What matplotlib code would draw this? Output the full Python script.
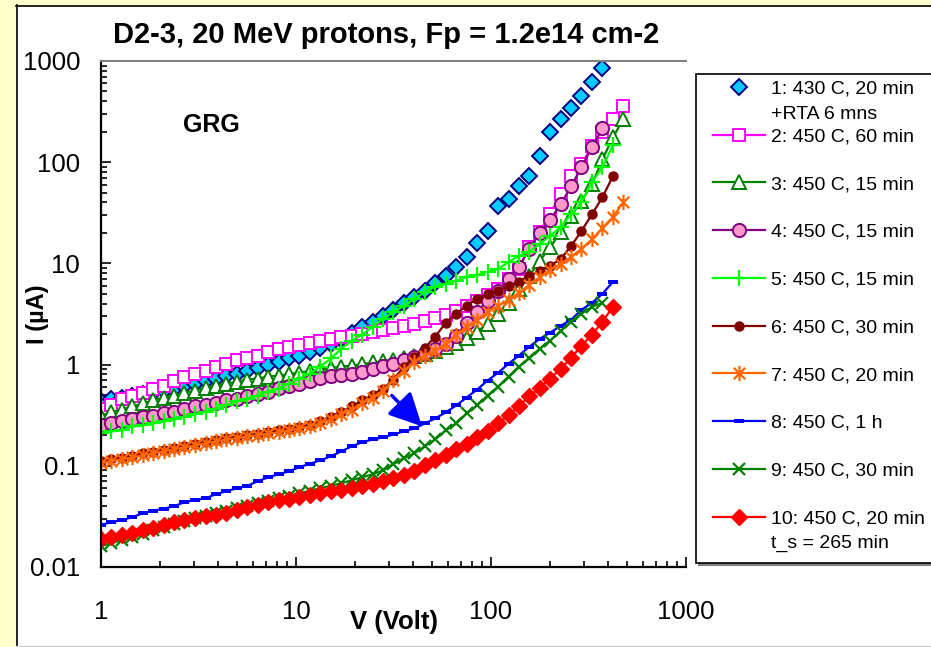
import matplotlib
matplotlib.use("Agg")
import matplotlib.pyplot as plt
from matplotlib.lines import Line2D
from matplotlib.patches import Rectangle
from matplotlib.path import Path
from matplotlib.ticker import LogLocator, NullFormatter, FuncFormatter

plt.rcParams['font.family'] = ['Liberation Sans', 'DejaVu Sans']

# bias voltage (V), shared by all curves
volts = [1.00, 1.13, 1.28, 1.45, 1.64, 1.85, 2.10, 2.37, 2.68, 3.03,
         3.44, 3.89, 4.40, 4.97, 5.63, 6.37, 7.20, 8.15, 9.22, 10.4,
         11.8, 13.3, 15.1, 17.1, 19.3, 21.9, 24.7, 28.0, 31.6, 35.8,
         40.5, 45.8, 51.8, 58.6, 66.3, 75.0, 84.9, 96.0, 109, 123,
         139, 157, 178, 201, 228, 258, 291, 330, 373, 422, 477, 540]

# current (uA) for each anneal step
i_1 = [0.432, 0.452, 0.473, 0.495, 0.512, 0.530, 0.548, 0.580, 0.614, 0.650,
       0.688, 0.728, 0.770, 0.815, 0.863, 0.924, 1.00, 1.07, 1.15, 1.23,
       1.33, 1.45, 1.61, 1.80, 2.07, 2.37, 2.65, 3.04, 3.48, 4.08,
       4.68, 5.36, 6.43, 7.53, 9.24, 11.6, 15.9, 20.9, 36.9, 43.2,
       58.0, 72.8, 115, 198, 265, 340, 447, 614, 844]
i_2 = [0.368, 0.403, 0.462, 0.495, 0.530, 0.580, 0.621, 0.696, 0.762, 0.815,
       0.873, 0.956, 1.02, 1.10, 1.17, 1.23, 1.34, 1.44, 1.50, 1.57,
       1.65, 1.72, 1.80, 1.89, 1.93, 2.02, 2.11, 2.21, 2.32, 2.42,
       2.54, 2.71, 2.90, 3.11, 3.40, 3.81, 4.27, 4.89, 5.61, 7.03,
       8.83, 14.5, 20.4, 30.7, 48.4, 72.8, 95.5, 144, 198, 265, 356]
i_3 = [0.314, 0.337, 0.360, 0.386, 0.413, 0.442, 0.473, 0.495, 0.530, 0.554,
       0.593, 0.621, 0.650, 0.680, 0.712, 0.728, 0.762, 0.779, 0.806, 0.834,
       0.863, 0.893, 0.924, 0.956, 0.978, 1.01, 1.05, 1.08, 1.12, 1.17,
       1.23, 1.28, 1.37, 1.50, 1.65, 1.85, 2.11, 2.54, 3.18, 4.08,
       5.61, 7.53, 10.6, 14.5, 20.4, 29.4, 41.3, 60.7, 107, 176, 265]
i_4 = [0.251, 0.262, 0.274, 0.287, 0.304, 0.314, 0.329, 0.344, 0.368, 0.386,
       0.395, 0.413, 0.442, 0.462, 0.484, 0.518, 0.542, 0.593, 0.621, 0.650,
       0.696, 0.736, 0.770, 0.788, 0.815, 0.853, 0.913, 0.978, 1.02, 1.10,
       1.20, 1.31, 1.44, 1.61, 1.93, 2.59, 3.33, 4.27, 5.36, 7.03,
       9.24, 13.9, 20.0, 26.8, 38.6, 58.0, 89.3, 141, 216]
i_5 = [0.209, 0.219, 0.224, 0.245, 0.251, 0.262, 0.274, 0.287, 0.307, 0.322,
       0.344, 0.368, 0.395, 0.432, 0.462, 0.495, 0.542, 0.580, 0.650, 0.728,
       0.815, 0.956, 1.15, 1.44, 1.72, 1.98, 2.37, 2.84, 3.33, 3.81,
       4.47, 5.24, 5.87, 6.28, 6.72, 7.36, 7.70, 8.25, 8.83, 10.3,
       11.9, 13.0, 15.6, 18.7, 22.9, 30.7, 40.4, 63.5, 89.3, 147]
i_6 = [0.111, 0.116, 0.119, 0.124, 0.133, 0.136, 0.142, 0.149, 0.156, 0.163,
       0.171, 0.178, 0.187, 0.193, 0.200, 0.207, 0.214, 0.224, 0.232, 0.242,
       0.251, 0.274, 0.307, 0.344, 0.386, 0.442, 0.506, 0.580, 0.712, 0.956,
       1.20, 1.47, 1.89, 2.59, 3.18, 3.81, 4.47, 5.01, 5.36, 6.00,
       6.57, 7.53, 8.44, 9.45, 11.1, 14.9, 20.9, 30.7, 45.2, 72.8]
i_7 = [0.106, 0.111, 0.116, 0.121, 0.127, 0.133, 0.139, 0.146, 0.152, 0.159,
       0.167, 0.174, 0.182, 0.187, 0.195, 0.200, 0.209, 0.214, 0.224, 0.234,
       0.245, 0.262, 0.287, 0.322, 0.360, 0.413, 0.473, 0.554, 0.712, 0.873,
       1.07, 1.23, 1.37, 1.61, 1.98, 2.37, 2.77, 3.33, 3.81, 4.37,
       5.12, 6.14, 7.36, 8.63, 9.89, 11.6, 13.9, 17.4, 22.4, 28.7, 40.4]
i_8 = [0.0259, 0.0278, 0.0290, 0.0311, 0.0340, 0.0360, 0.0377, 0.0399, 0.0437, 0.0457,
       0.0478, 0.0524, 0.0561, 0.0600, 0.0635, 0.0704, 0.0770, 0.0824, 0.0883, 0.0967,
       0.105, 0.113, 0.124, 0.139, 0.156, 0.171, 0.182, 0.191, 0.204, 0.219,
       0.234, 0.262, 0.294, 0.337, 0.395, 0.473, 0.567, 0.696, 0.834, 1.02,
       1.23, 1.50, 1.80, 2.07, 2.42, 2.78, 3.48, 4.08, 5.01, 6.57]
i_9 = [0.0161, 0.0172, 0.0185, 0.0198, 0.0214, 0.0232, 0.0248, 0.0265, 0.0284, 0.0304,
       0.0322, 0.0340, 0.0360, 0.0382, 0.0404, 0.0427, 0.0452, 0.0478, 0.0506, 0.0536,
       0.0567, 0.0600, 0.0635, 0.0672, 0.0720, 0.0770, 0.0824, 0.0903, 0.104, 0.119,
       0.133, 0.156, 0.182, 0.224, 0.262, 0.329, 0.395, 0.495, 0.607, 0.762,
       0.956, 1.15, 1.44, 1.72, 2.16, 2.65, 3.18, 3.73, 4.08]
i_10 = [0.0189, 0.0198, 0.0207, 0.0216, 0.0232, 0.0242, 0.0259, 0.0278, 0.0290, 0.0308,
        0.0322, 0.0329, 0.0340, 0.0364, 0.0390, 0.0408, 0.0437, 0.0457, 0.0473, 0.0489,
        0.0512, 0.0536, 0.0561, 0.0574, 0.0600, 0.0628, 0.0657, 0.0704, 0.0753, 0.0806,
        0.0883, 0.101, 0.113, 0.127, 0.146, 0.163, 0.191, 0.219, 0.262, 0.315,
        0.386, 0.484, 0.593, 0.728, 0.913, 1.17, 1.54, 1.98, 2.65, 3.73]

currents = [i_1, i_2, i_3, i_4, i_5, i_6, i_7, i_8, i_9, i_10]
labels = ["1: 430 C, 20 min", "2: 450 C, 60 min", "3: 450 C, 15 min",
          "4: 450 C, 15 min", "5: 450 C, 15 min", "6: 450 C, 30 min",
          "7: 450 C, 20 min", "8: 450 C, 1 h", "9: 450 C, 30 min",
          "10: 450 C, 20 min"]
second_lines = {0: "+RTA 6 mns", 9: "t_s = 265 min"}

# excel style markers
star = Path([(0, -1), (0, 1), (-0.75, -0.75), (0.75, 0.75), (-0.75, 0.75), (0.75, -0.75)],
            [Path.MOVETO, Path.LINETO] * 3)
flat = Path([(-1, -0.55), (1, -0.55), (1, 0.55), (-1, 0.55), (-1, -0.55)],
            [Path.MOVETO, Path.LINETO, Path.LINETO, Path.LINETO, Path.CLOSEPOLY])

styles = [
    dict(ls='none', marker='D', ms=8.3, mfc='#00CCFF', mec='#000080', mew=1.4),
    dict(color='#FF00FF', lw=1.6, marker='s', ms=9, mfc='white', mec='#FF00FF', mew=1.4),
    dict(color='#008000', lw=1.6, marker='^', ms=9.5, mfc='white', mec='#008000', mew=1.4),
    dict(color='#800080', lw=1.6, marker='o', ms=9.5, mfc='#FF99CC', mec='#800080', mew=1.4),
    dict(color='#00FF00', lw=1.6, marker='+', ms=12, mew=1.6),
    dict(color='#800000', lw=1.6, marker='o', ms=6.5, mfc='#800000', mec='#800000'),
    dict(color='#FF6600', lw=1.6, marker=star, ms=11, mec='#FF6600', mew=1.6),
    dict(color='#0000FF', lw=1.6, marker=flat, ms=6.5, mfc='#0000FF', mew=0),
    dict(color='#008000', lw=1.6, marker='x', ms=9, mew=1.6),
    dict(color='#FF0000', lw=1.6, marker='D', ms=8.3, mfc='#FF0000', mec='#FF0000'),
]

W, H = 931, 647
fig = plt.figure(figsize=(W / 100, H / 100), dpi=100, facecolor='#FFFFCC')


def fx(px):
    return px / W


def fy(py):
    return 1 - py / H


# white chart area on the yellow page
fig.add_artist(Rectangle((fx(16), 0), 1, fy(5), transform=fig.transFigure,
                         facecolor='white', edgecolor='none', zorder=-3))
fig.add_artist(Line2D([fx(16.5), fx(16.5)], [0, fy(5)], color='black', lw=1.2, zorder=-2))
fig.add_artist(Line2D([fx(16), 1], [fy(5.5), fy(5.5)], color='black', lw=1.2, zorder=-2))
fig.add_artist(Line2D([fx(16), 1], [fy(645.5), fy(645.5)], color='#D0D0D0', lw=1, zorder=-2))

ax = fig.add_axes([fx(101), fy(567), (686 - 101) / W, (567 - 61) / H])
ax.set_facecolor('white')

handles = []
for cur, st, lab in zip(currents, styles, labels):
    h, = ax.plot(volts[:len(cur)], cur, label=lab, **st)
    handles.append(h)

ax.set_xscale('log')
ax.set_yscale('log')
ax.set_xlim(1, 1000)
ax.set_ylim(0.01, 1000)

fmt = FuncFormatter(lambda v, p: f'{v:g}')
for axis in (ax.xaxis, ax.yaxis):
    axis.set_major_locator(LogLocator(base=10))
    axis.set_minor_locator(LogLocator(base=10, subs=range(2, 10)))
    axis.set_major_formatter(fmt)
    axis.set_minor_formatter(NullFormatter())

ax.tick_params(which='both', direction='in', labelsize=18.5, width=1.2, color='black')
ax.tick_params(which='major', length=7)
ax.tick_params(which='minor', length=4.5)
ax.tick_params(axis='y', pad=15)
ax.tick_params(axis='x', pad=24)

for side in ('left', 'bottom'):
    ax.spines[side].set_linewidth(1.6)
    ax.spines[side].set_color('black')
ax.spines['top'].set_color('#808080')
ax.spines['top'].set_linewidth(1.5)
ax.spines['right'].set_visible(False)

ax.set_xlabel('V (Volt)', fontsize=18.5, fontweight='bold')
ax.xaxis.set_label_coords(0.5, -0.109)
ax.xaxis.label.set_va('center')
ax.set_ylabel('I (\u00b5A)', fontsize=17, fontweight='bold')
ax.yaxis.set_label_coords(-0.108, 0.5)
ax.yaxis.label.set_va('center')

ax.text(0.188, 0.8735, 'GRG', transform=ax.transAxes, fontsize=18,
        fontweight='bold', ha='center', va='center')

ax.annotate('', xy=(44.3, 0.245), xytext=(31, 0.495),
            arrowprops=dict(arrowstyle='-|>,head_length=1.0,head_width=0.5',
                            color='#0000FF', lw=2.5, mutation_scale=20,
                            shrinkA=0, shrinkB=0))

fig.text(fx(386), fy(35), 'D2-3, 20 MeV protons, Fp = 1.2e14 cm-2',
         ha='center', va='center', fontsize=21, fontweight='bold')

# legend box with shadow
fig.add_artist(Rectangle((fx(698), fy(566)), 1, (566 - 76) / H, transform=fig.transFigure,
                         facecolor='#808080', edgecolor='none', zorder=1))
fig.add_artist(Rectangle((fx(695.5), fy(563)), 1, (563 - 73.5) / H, transform=fig.transFigure,
                         facecolor='white', edgecolor='black', lw=1.2, zorder=2))

leg = fig.legend(handles, labels, loc='upper left', bbox_to_anchor=(fx(713), fy(80)),
                 frameon=False, borderpad=0, borderaxespad=0, fontsize=14,
                 handlelength=2.67, handletextpad=0.3, labelspacing=1.55, numpoints=1)
leg.set_zorder(5)

fig.canvas.draw()
for idx, txt in second_lines.items():
    bb = leg.get_texts()[idx].get_window_extent()
    fig.text(bb.x0 / W, ((bb.y0 + bb.y1) / 2 - 25) / H, txt, fontsize=14,
             ha='left', va='center', zorder=6)

fig.savefig('out.png', dpi=100, facecolor=fig.get_facecolor())
